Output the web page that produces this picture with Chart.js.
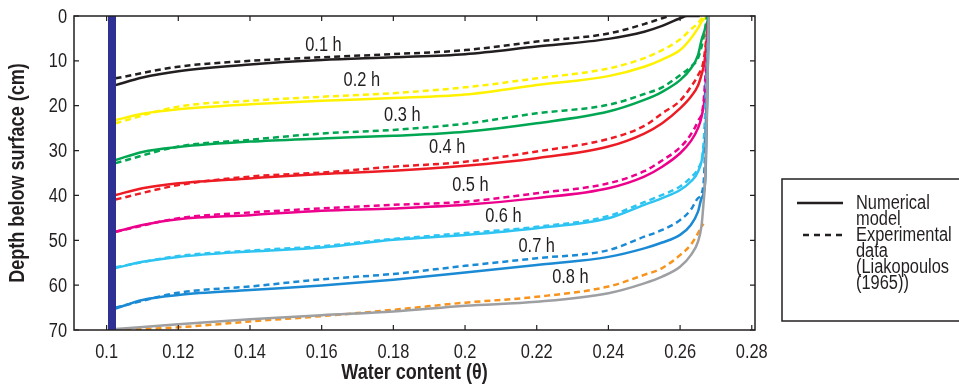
<!DOCTYPE html>
<html>
<head>
<meta charset="utf-8">
<title>Infiltration profiles</title>
<script src="https://cdn.jsdelivr.net/npm/chart.js@4.4.1/dist/chart.umd.min.js"></script>
<style>
  html, body { margin: 0; padding: 0; background: #fff; }
  #wrap { width: 959px; height: 384px; }
</style>
</head>
<body>
<div id="wrap"><canvas id="chart" width="959" height="384"></canvas></div>
<script>
// Axis ticks
const xTicks = [0.1, 0.12, 0.14, 0.16, 0.18, 0.2, 0.22, 0.24, 0.26, 0.28];
const yTicks = [0, 10, 20, 30, 40, 50, 60, 70];

// Labels written along the curves
const curveLabels = ['0.1 h', '0.2 h', '0.3 h', '0.4 h', '0.5 h', '0.6 h', '0.7 h', '0.8 h'];
const labelTheta = [0.1605, 0.1712, 0.1825, 0.195, 0.2015, 0.2107, 0.2200, 0.2294];
const labelDepth = [6.5, 14.3, 22.1, 29.4, 37.7, 44.8, 51.3, 58.4];

// Legend text
const legendLines = ['Numerical', 'model', 'Experimental', 'data', '(Liakopoulos', '(1965))'];

// Initial water content line
const barTheta = [0.1015, 0.1015];
const barDepth = [0, 70];

// 0.1 h
const t01Num = [0.1025, 0.11, 0.12, 0.14, 0.16, 0.18, 0.2, 0.22, 0.24, 0.25, 0.255, 0.26, 0.262, 0.2655];
const d01Num = [15.4, 13.7, 12.3, 10.8, 9.8, 9.2, 8.5, 6.8, 5.1, 3.5, 2.2, 0.5, 0, 0];
const t01Exp = [0.1025, 0.12, 0.14, 0.16, 0.18, 0.2, 0.22, 0.24, 0.25, 0.255, 0.257];
const d01Exp = [13.9, 11.3, 10.0, 9.2, 8.5, 7.6, 5.7, 3.9, 1.8, 0.5, 0];

// 0.2 h
const t02Num = [0.1025, 0.11, 0.12, 0.14, 0.16, 0.18, 0.2, 0.22, 0.24, 0.25, 0.255, 0.26, 0.263, 0.265, 0.266, 0.2675];
const d02Num = [23.2, 21.8, 20.8, 19.7, 18.9, 18.3, 17.5, 15.4, 13.4, 11.3, 9.7, 7.6, 5.0, 2.7, 1.3, 0];
const t02Exp = [0.1025, 0.12, 0.14, 0.16, 0.18, 0.2, 0.22, 0.24, 0.25, 0.255, 0.26, 0.263, 0.265, 0.2665];
const d02Exp = [23.9, 20.2, 18.9, 18.0, 17.2, 15.9, 13.9, 11.7, 9.4, 7.6, 5.2, 3.0, 1.6, 0];

// 0.3 h
const t03Num = [0.1025, 0.11, 0.12, 0.14, 0.16, 0.18, 0.2, 0.22, 0.24, 0.25, 0.255, 0.26, 0.263, 0.265, 0.266, 0.2675, 0.268];
const d03Num = [32.1, 30.3, 29.2, 28.0, 27.3, 26.7, 25.8, 23.9, 21.3, 18.7, 16.9, 14.3, 11.7, 8.7, 5.3, 1.6, 0];
const t03Exp = [0.1025, 0.12, 0.14, 0.16, 0.18, 0.2, 0.22, 0.24, 0.25, 0.255, 0.26, 0.263, 0.265, 0.2665, 0.2675];
const d03Exp = [32.8, 29.1, 27.6, 26.2, 25.4, 24.0, 21.7, 19.8, 17.4, 15.9, 13.2, 11.3, 9.4, 5.0, 0];

// 0.4 h
const t04Num = [0.1025, 0.11, 0.12, 0.14, 0.16, 0.18, 0.2, 0.22, 0.24, 0.25, 0.255, 0.26, 0.263, 0.265, 0.266, 0.2668, 0.268];
const d04Num = [39.9, 38.4, 37.3, 36.2, 35.2, 34.5, 33.4, 31.7, 29.1, 26.2, 23.9, 20.6, 18.0, 15.5, 13.0, 10.2, 0];
const t04Exp = [0.1025, 0.12, 0.14, 0.16, 0.18, 0.2, 0.22, 0.24, 0.25, 0.255, 0.26, 0.263, 0.265, 0.2665, 0.268];
const d04Exp = [40.9, 37.7, 35.8, 34.9, 33.6, 32.5, 30.2, 27.4, 24.5, 21.7, 18.9, 15.8, 13.2, 10.2, 0];

// 0.5 h
const t05Num = [0.1025, 0.11, 0.12, 0.14, 0.16, 0.18, 0.2, 0.22, 0.24, 0.25, 0.255, 0.26, 0.263, 0.265, 0.266, 0.267, 0.268];
const d05Num = [48.1, 46.6, 45.3, 44.4, 43.4, 42.9, 42.1, 40.6, 38.4, 35.8, 33.6, 30.6, 27.9, 25.0, 22.4, 17.0, 0];
const t05Exp = [0.1025, 0.12, 0.14, 0.16, 0.18, 0.2, 0.22, 0.24, 0.25, 0.255, 0.26, 0.263, 0.265, 0.2665, 0.268];
const d05Exp = [48.1, 45.1, 43.8, 42.9, 42.1, 41.4, 39.5, 37.3, 34.6, 32.2, 29.3, 26.4, 23.4, 19.5, 0];

// 0.6 h
const t06Num = [0.1025, 0.11, 0.12, 0.14, 0.16, 0.18, 0.2, 0.22, 0.24, 0.25, 0.255, 0.26, 0.263, 0.265, 0.2665, 0.2675, 0.268];
const d06Num = [56.2, 54.8, 53.7, 52.5, 51.6, 49.9, 48.8, 47.3, 45.1, 42.1, 40.6, 38.8, 36.9, 34.7, 30.0, 20.0, 0];
const t06Exp = [0.1025, 0.12, 0.14, 0.16, 0.18, 0.2, 0.22, 0.24, 0.25, 0.255, 0.26, 0.263, 0.265, 0.2665, 0.268];
const d06Exp = [56.0, 53.5, 52.3, 51.3, 49.7, 48.4, 47.0, 44.6, 41.5, 39.9, 38.0, 36.0, 34.0, 29.0, 0];

// 0.7 h
const t07Num = [0.1025, 0.11, 0.12, 0.14, 0.16, 0.18, 0.2, 0.22, 0.24, 0.25, 0.255, 0.26, 0.263, 0.265, 0.266, 0.267, 0.268];
const d07Num = [65.2, 63.3, 62.2, 61.1, 60.1, 58.8, 57.2, 55.5, 53.7, 51.8, 50.5, 48.8, 46.6, 43.6, 40.6, 36.9, 0];
const t07Exp = [0.1025, 0.12, 0.14, 0.16, 0.18, 0.2, 0.22, 0.24, 0.25, 0.255, 0.26, 0.263, 0.265, 0.2665, 0.268];
const d07Exp = [65.0, 61.7, 60.3, 58.7, 57.5, 55.7, 54.0, 52.2, 49.2, 47.7, 45.5, 43.2, 40.6, 37.7, 0];

// 0.8 h
const t08Num = [0.1025, 0.12, 0.14, 0.16, 0.18, 0.2, 0.22, 0.24, 0.25, 0.255, 0.26, 0.263, 0.265, 0.266, 0.2665, 0.267, 0.2675, 0.268];
const d08Num = [69.8, 68.7, 67.6, 66.7, 65.9, 64.6, 63.7, 61.8, 59.6, 58.1, 55.9, 53.3, 50.3, 46.6, 42.1, 36.2, 20.0, 0];
const t08Exp = [0.1025, 0.12, 0.14, 0.16, 0.18, 0.2, 0.22, 0.24, 0.25, 0.255, 0.26, 0.263, 0.265, 0.2665];
const d08Exp = [70.0, 69.4, 68.1, 66.9, 65.5, 63.9, 62.6, 60.3, 57.7, 56.2, 53.3, 51.0, 48.4, 46.3];

const INK = '#231f20';
const FAMILY = '"Liberation Sans", Arial, sans-serif';
const SQUEEZE = 0.82; // no condensed face installed, so squeeze a regular one

function pts(xs, ys) {
  return xs.map((x, i) => ({ x: x, y: ys[i] }));
}

function curve(label, xs, ys, color, dashed) {
  return {
    label: label,
    data: pts(xs, ys),
    borderColor: color,
    backgroundColor: color,
    borderWidth: 2.5,
    borderDash: dashed ? [6, 4] : [],
    pointRadius: 0,
    fill: false,
    cubicInterpolationMode: 'monotone',
  };
}

function narrowText(ctx, text, x, y, size, bold, align, angle) {
  ctx.save();
  ctx.translate(x, y);
  if (angle) ctx.rotate(angle);
  ctx.scale(SQUEEZE, 1);
  ctx.font = (bold ? 'bold ' : '') + size + 'px ' + FAMILY;
  ctx.fillStyle = INK;
  ctx.textAlign = align;
  ctx.textBaseline = 'middle';
  ctx.fillText(text, 0, 0);
  ctx.restore();
}

// first dataset ends up on top
const datasets = [
  {
    label: 'initial',
    data: pts(barTheta, barDepth),
    borderColor: '#2e3192',
    borderWidth: 8,
    pointRadius: 0,
    fill: false,
  },
  curve('0.8 h model', t08Num, d08Num, '#9d9fa2', false),
  curve('0.8 h data', t08Exp, d08Exp, '#f7941d', true),
  curve('0.7 h model', t07Num, d07Num, '#1a8ad4', false),
  curve('0.7 h data', t07Exp, d07Exp, '#1a8ad4', true),
  curve('0.6 h model', t06Num, d06Num, '#2ec4f2', false),
  curve('0.6 h data', t06Exp, d06Exp, '#2ec4f2', true),
  curve('0.5 h model', t05Num, d05Num, '#ec008c', false),
  curve('0.5 h data', t05Exp, d05Exp, '#ec008c', true),
  curve('0.4 h model', t04Num, d04Num, '#ed1c24', false),
  curve('0.4 h data', t04Exp, d04Exp, '#ed1c24', true),
  curve('0.3 h model', t03Num, d03Num, '#00a651', false),
  curve('0.3 h data', t03Exp, d03Exp, '#00a651', true),
  curve('0.2 h model', t02Num, d02Num, '#fff200', false),
  curve('0.2 h data', t02Exp, d02Exp, '#fff200', true),
  curve('0.1 h model', t01Num, d01Num, '#231f20', false),
  curve('0.1 h data', t01Exp, d01Exp, '#231f20', true),
];

// Frame, inward ticks, tick labels, titles, curve labels and the legend box
const decorations = {
  id: 'decorations',
  afterDatasetsDraw(chart) {
    const { ctx, chartArea: a, scales: { x, y } } = chart;
    ctx.save();
    ctx.strokeStyle = INK;
    ctx.lineWidth = 1.5;
    ctx.setLineDash([]);
    ctx.strokeRect(a.left, a.top, a.right - a.left, a.bottom - a.top);

    ctx.lineWidth = 1.2;
    ctx.beginPath();
    xTicks.forEach((v) => {
      const px = x.getPixelForValue(v);
      ctx.moveTo(px, a.bottom); ctx.lineTo(px, a.bottom - 5);
      ctx.moveTo(px, a.top); ctx.lineTo(px, a.top + 5);
    });
    yTicks.forEach((v) => {
      const py = y.getPixelForValue(v);
      ctx.moveTo(a.left, py); ctx.lineTo(a.left + 5, py);
      ctx.moveTo(a.right, py); ctx.lineTo(a.right - 5, py);
    });
    ctx.stroke();

    xTicks.forEach((v) => narrowText(ctx, String(v), x.getPixelForValue(v), a.bottom + 22, 20, false, 'center'));
    yTicks.forEach((v) => narrowText(ctx, String(v), a.left - 7, y.getPixelForValue(v) + 1, 20, false, 'right'));
    narrowText(ctx, 'Water content (\u03b8)', (a.left + a.right) / 2, a.bottom + 43, 22, true, 'center');
    narrowText(ctx, 'Depth below surface (cm)', 18, (a.top + a.bottom) / 2, 22, true, 'center', -Math.PI / 2);

    curveLabels.forEach((t, i) => {
      narrowText(ctx, t, x.getPixelForValue(labelTheta[i]), y.getPixelForValue(labelDepth[i]), 20, false, 'center');
    });

    // legend
    const bx = a.right + 27, by = 179, bh = 142;
    ctx.lineWidth = 1.5;
    ctx.strokeRect(bx, by, 200, bh);
    ctx.lineWidth = 2.5;
    ctx.beginPath();
    ctx.moveTo(bx + 15, by + 24); ctx.lineTo(bx + 61, by + 24);
    ctx.stroke();
    ctx.setLineDash([6, 5]);
    ctx.beginPath();
    ctx.moveTo(bx + 21, by + 56); ctx.lineTo(bx + 62, by + 56);
    ctx.stroke();
    ctx.setLineDash([]);
    legendLines.forEach((t, i) => narrowText(ctx, t, bx + 74, by + 24 + i * 16, 20, false, 'left'));
    ctx.restore();
  },
};

new Chart(document.getElementById('chart'), {
  type: 'line',
  data: { datasets: datasets },
  options: {
    responsive: false,
    animation: false,
    devicePixelRatio: 1,
    layout: { padding: { top: 16, right: 204, left: 0, bottom: 0 } },
    plugins: { legend: { display: false }, tooltip: { enabled: false } },
    scales: {
      x: {
        type: 'linear',
        min: 0.0909,
        max: 0.2809,
        afterBuildTicks: (s) => { s.ticks = xTicks.map((v) => ({ value: v })); },
        afterFit: (s) => { s.height = 54; },
        grid: { display: false, drawTicks: false },
        border: { display: false },
        ticks: { display: false },
        title: { display: false, text: 'Water content (\u03b8)' },
      },
      y: {
        type: 'linear',
        reverse: true,
        min: 0,
        max: 70,
        afterBuildTicks: (s) => { s.ticks = yTicks.map((v) => ({ value: v })); },
        afterFit: (s) => { s.width = 74; },
        grid: { display: false, drawTicks: false },
        border: { display: false },
        ticks: { display: false },
        title: { display: false, text: 'Depth below surface (cm)' },
      },
    },
  },
  plugins: [decorations],
});
</script>
</body>
</html>
